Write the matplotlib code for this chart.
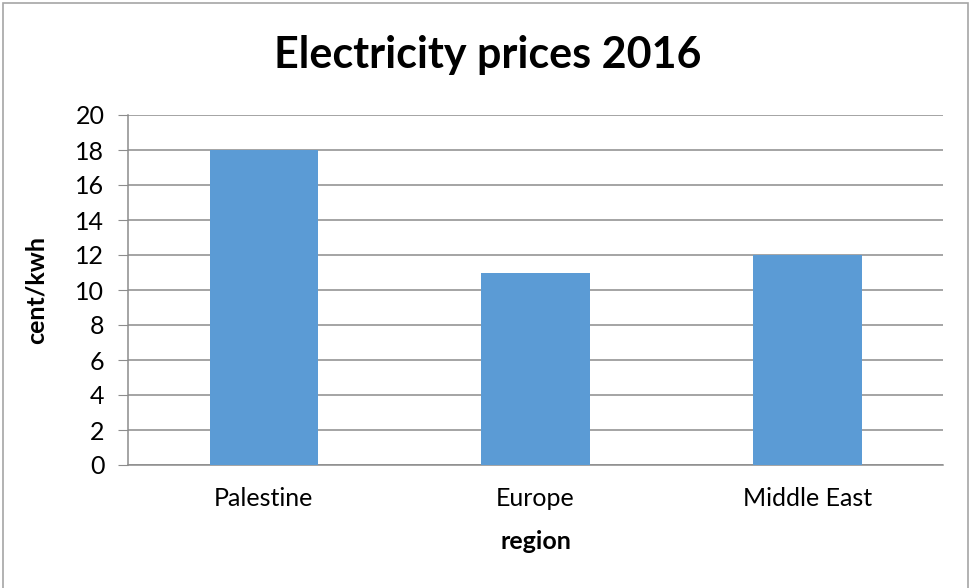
import matplotlib.pyplot as plt
import matplotlib.patches as patches
import numpy as np

regions = ['Palestine', 'Europe', 'Middle East']
prices = [18, 11, 12]
y_ticks = list(range(0, 21, 2))

plt.rcParams['font.family'] = ['Lato', 'DejaVu Sans']

fig = plt.figure(figsize=(9.73, 5.88), dpi=100)
ax = fig.add_axes([128 / 973, 1 - 465 / 588, (943 - 128) / 973, (465 - 115) / 588])

# outer chart frame
fig.patches.append(patches.Rectangle((3 / 973, -0.05), 965 / 973, 1.05 - 3 / 588,
                                     transform=fig.transFigure, fill=False,
                                     edgecolor='#a6a6a6', linewidth=1.2))

index = np.arange(len(regions))
ax.bar(index, prices, 0.4, color='#5b9bd5', zorder=3)

ax.set_xlim(-0.5, len(regions) - 0.5)
ax.set_ylim(0, 20)
ax.set_yticks(y_ticks)
ax.set_xticks(index)
ax.set_xticklabels(regions)
ax.grid(axis='y', color='#8c8c8c', linewidth=1.1, zorder=0)

for side in ['top', 'right']:
    ax.spines[side].set_visible(False)
ax.spines['left'].set_color('#8c8c8c')
ax.spines['bottom'].set_color('#8c8c8c')
ax.spines['left'].set_linewidth(1.1)
ax.spines['bottom'].set_linewidth(1.1)

ax.tick_params(axis='y', length=7, color='#8c8c8c', labelsize=18, pad=10)
ax.tick_params(axis='x', length=0, labelsize=18, pad=16)

ax.set_ylabel('cent/kwh', fontsize=18, fontweight='bold', labelpad=20)
ax.set_xlabel('region', fontsize=18, fontweight='bold', labelpad=14)
fig.text(488 / 973, 1 - 55 / 588, 'Electricity prices 2016', ha='center', va='center',
         fontsize=31, fontweight='bold')

fig.savefig('out.png', dpi=100)
